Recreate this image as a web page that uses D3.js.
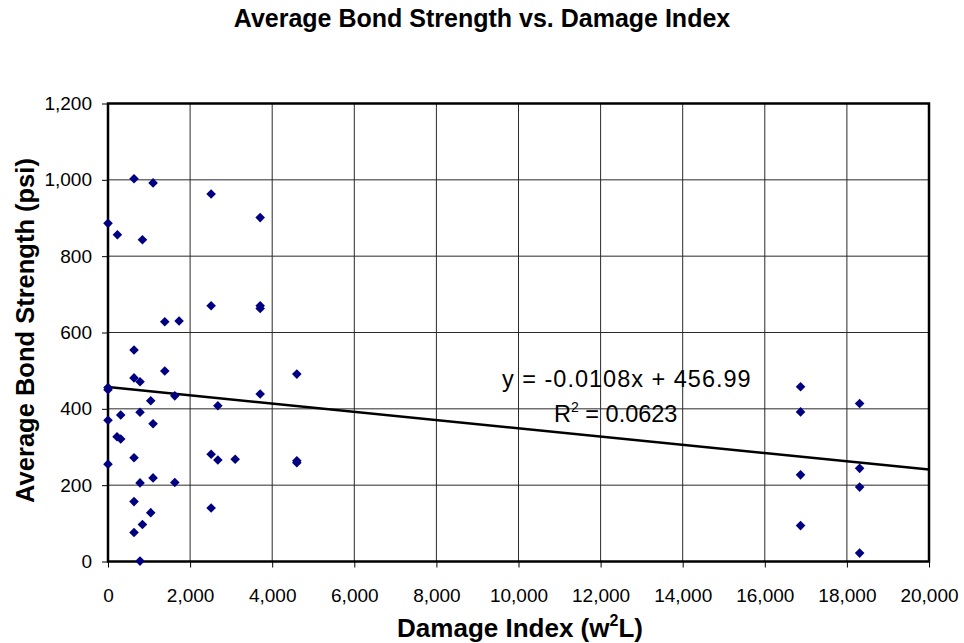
<!DOCTYPE html>
<html>
<head>
<meta charset="utf-8">
<script src="https://cdn.jsdelivr.net/npm/d3@7"></script>
<style>
  body { margin: 0; background: #fff; }
  svg { font-family: "Liberation Sans", Arial, sans-serif; }
</style>
</head>
<body>
<div id="chart"></div>
<script>
// damage index (w^2 L) and average bond strength (psi)
let damage = [634, 1098, 2512, 3707, 0, 229, 839, 2512, 3707, 3707, 1383, 1732, 634,
  1383, 634, 780, 0, 0, 1041, 1627, 2676, 3707, 4600, 0, 310, 780, 1098, 220, 310,
  634, 0, 2512, 2676, 3098, 4600, 4600, 1098, 780, 1627, 634, 2512, 1041, 839, 634, 780,
  16871, 16871, 16871, 16871, 18310, 18310, 18310, 18310];
let strength = [1003, 992, 963, 901, 886, 856, 843, 670, 670, 663, 628, 630, 554,
  499, 481, 471, 456, 450, 421, 434, 408, 439, 491, 370, 384, 391, 361, 327, 321,
  272, 255, 281, 266, 268, 264, 259, 219, 206, 207, 157, 140, 128, 97, 76, 1,
  458, 392, 227, 94, 414, 244, 195, 22];

let xTicks = [0, 2000, 4000, 6000, 8000, 10000, 12000, 14000, 16000, 18000, 20000];
let yTicks = [0, 200, 400, 600, 800, 1000, 1200];

let slope = -0.0108, intercept = 456.99;
let eqText = "y = -0.0108x + 456.99";
let r2Text = "0.0623";

let width = 964, height = 643;
let margin = {left: 108, right: 35, top: 103.5, bottom: 81.5};
let plotW = width - margin.left - margin.right,
    plotH = height - margin.top - margin.bottom;

let svg = d3.select("#chart")
    .append("svg")
    .attr("width", width)
    .attr("height", height);

let g = svg.append("g")
    .attr("transform", `translate(${margin.left},${margin.top})`);

let x = d3.scaleLinear().domain([0, 20000]).range([0, plotW]);
let y = d3.scaleLinear().domain([0, 1200]).range([plotH, 0]);
let fmt = d3.format(",");

// gridlines
g.append("g")
    .selectAll("line")
    .data(xTicks)
    .enter().append("line")
    .attr("x1", d => x(d)).attr("x2", d => x(d))
    .attr("y1", 0).attr("y2", plotH)
    .attr("stroke", "#2a2a2a")
    .attr("stroke-width", 1);

g.append("g")
    .selectAll("line")
    .data(yTicks)
    .enter().append("line")
    .attr("x1", 0).attr("x2", plotW)
    .attr("y1", d => y(d)).attr("y2", d => y(d))
    .attr("stroke", "#2a2a2a")
    .attr("stroke-width", 1);

// axes
let xAxis = g.append("g")
    .attr("transform", `translate(0,${plotH})`)
    .call(d3.axisBottom(x).tickValues(xTicks).tickFormat(fmt).tickSize(6).tickPadding(21));
let yAxis = g.append("g")
    .call(d3.axisLeft(y).tickValues(yTicks).tickFormat(fmt).tickSize(6).tickPadding(10));

[xAxis, yAxis].forEach(a => {
    a.select(".domain").remove();
    a.selectAll("text")
        .style("font-size", "19px")
        .style("font-family", "Liberation Sans, Arial, sans-serif")
        .attr("fill", "#000");
    a.selectAll(".tick line").attr("stroke", "#000").attr("stroke-width", 1);
});

// plot frame
g.append("rect")
    .attr("x", 0).attr("y", 0)
    .attr("width", plotW).attr("height", plotH)
    .attr("fill", "none")
    .attr("stroke", "#000")
    .attr("stroke-width", 2.5);

// trend line
g.append("line")
    .attr("x1", x(0)).attr("y1", y(intercept))
    .attr("x2", x(20000)).attr("y2", y(intercept + slope * 20000))
    .attr("stroke", "#000")
    .attr("stroke-width", 2.5);

// points
let diamond = "M0,-4.8L4.8,0L0,4.8L-4.8,0Z";
g.append("g")
    .selectAll("path")
    .data(damage.map((d, i) => [d, strength[i]]))
    .enter().append("path")
    .attr("d", diamond)
    .attr("transform", d => `translate(${x(d[0])},${y(d[1])})`)
    .attr("fill", "#000080");

// equation labels
svg.append("text")
    .attr("x", 502).attr("y", 387)
    .style("font-size", "23.5px")
    .style("letter-spacing", "1px")
    .text(eqText);

let r2 = svg.append("text")
    .attr("x", 554).attr("y", 422)
    .style("font-size", "23.5px");
r2.append("tspan").text("R");
r2.append("tspan").attr("dy", -10).style("font-size", "14px").text("2");
r2.append("tspan").attr("dy", 10).text(" = " + r2Text);

// title
svg.append("text")
    .attr("x", 482).attr("y", 27)
    .attr("text-anchor", "middle")
    .style("font-size", "25px")
    .style("font-weight", "bold")
    .text("Average Bond Strength vs. Damage Index");

// x label
let xl = svg.append("text")
    .attr("x", 520).attr("y", 637)
    .attr("text-anchor", "middle")
    .style("font-size", "26px")
    .style("font-weight", "bold");
xl.append("tspan").text("Damage Index (w");
xl.append("tspan").attr("dy", -11).style("font-size", "16px").text("2");
xl.append("tspan").attr("dy", 11).text("L)");

// y label
svg.append("text")
    .attr("transform", `translate(34,${margin.top + plotH / 2 - 2}) rotate(-90)`)
    .attr("text-anchor", "middle")
    .style("font-size", "25.5px")
    .style("font-weight", "bold")
    .text("Average Bond Strength (psi)");
</script>
</body>
</html>
